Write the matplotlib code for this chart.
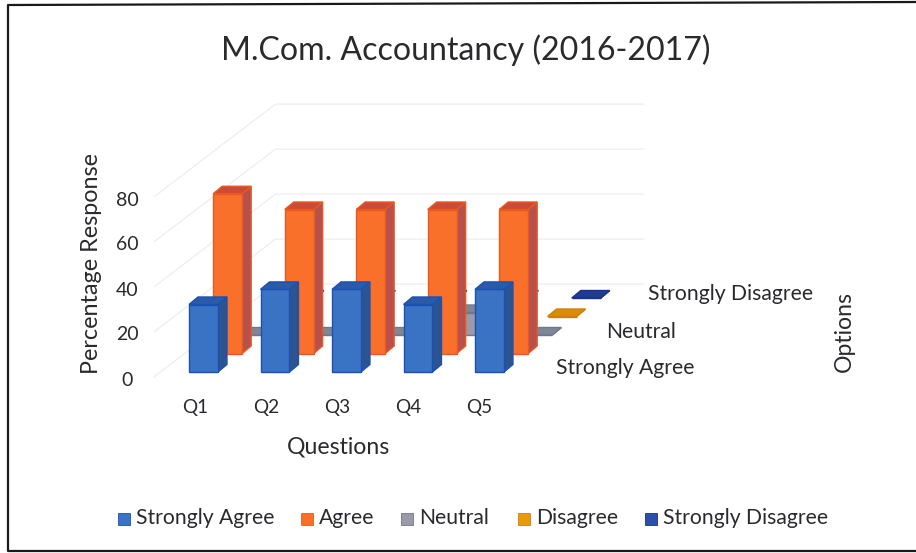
import matplotlib
matplotlib.use("Agg")
import matplotlib.pyplot as plt
from matplotlib.patches import Polygon, Rectangle

title = "M.Com. Accountancy (2016-2017)"
questions = ["Q1", "Q2", "Q3", "Q4", "Q5"]
series_names = ["Strongly Agree", "Agree", "Neutral", "Disagree", "Strongly Disagree"]
strongly_agree = [30, 36.7, 36.7, 30, 36.7]
agree = [71, 64, 64, 64, 64]
neutral = [0, 0, 0, 10, 0]
disagree = [0, 0, 0, 0, 0]
strongly_disagree = [0, 0, 0, 0, 0]
series_values = [strongly_agree, agree, neutral, disagree, strongly_disagree]
value_ticks = [0, 20, 40, 60, 80]
depth_labels = {0: "Strongly Agree", 2: "Neutral", 4: "Strongly Disagree"}
x_label = "Questions"
y_label = "Percentage Response"
z_label = "Options"

face = ["#3a73c4", "#f8702a", "#9a9aa8", "#e8990c", "#2a50a8"]
side = ["#2c5590", "#b8504e", "#80808c", "#b87808", "#1c3880"]
top = ["#2a5aa8", "#cc4a36", "#7f8796", "#d88c08", "#1e3c94"]
edge = ["#1c50b4", "#e85a20", "#70788a", "#d08008", "#1a3090"]

W, H = 916, 553
fig = plt.figure(figsize=(W / 100, H / 100), dpi=100, facecolor="white")
ax = fig.add_axes([0, 0, 1, 1])
ax.set_xlim(0, W)
ax.set_ylim(H, 0)
ax.axis("off")
plt.rcParams["font.family"] = "Lato"
TXT = "#2a2a2e"


def proj(q, s, v, d=0.0):
    """question index, series row, value, depth within a row -> picture position"""
    return (189 + 71.5 * q + 24.2 * s + 9 * d, 372 - 2.25 * v - 18.5 * s - 7.5 * d)


BW = 0.405

# scanned frame: top, left and bottom edges only
ax.plot([916, 8, 8, 916], [2, 5, 551, 551], color="#1a1a1a", lw=1.6, zorder=1)

# walls
grid_c = "#eeedf6"
for v in value_ticks:
    a = proj(-0.4, -0.25, v)
    b = proj(-0.4, 4.75, v)
    c = proj(4.75, 4.75, v)
    ax.plot([a[0], b[0], c[0]], [a[1], b[1], c[1]], color=grid_c, lw=0.9, zorder=1)

# bars, back rows first
z = 2
for s in range(len(series_values) - 1, -1, -1):
    for q, v in enumerate(series_values[s]):
        x0 = q
        x1 = q + BW
        f = [proj(x0, s, 0), proj(x1, s, 0), proj(x1, s, v), proj(x0, s, v)]
        sd = [proj(x1, s, 0), proj(x1, s, 0, 1), proj(x1, s, v, 1), proj(x1, s, v)]
        tp = [proj(x0, s, v), proj(x1, s, v), proj(x1, s, v, 1), proj(x0, s, v, 1)]
        for pts, col in ((sd, side[s]), (f, face[s]), (tp, top[s])):
            ax.add_patch(Polygon(pts, closed=True, fc=col, ec=edge[s], lw=1.0, zorder=z))
        z += 1

# text
ax.text(466, 50, title, ha="center", va="center", fontsize=23.1, color=TXT)
for v in value_ticks:
    ax.text(127, proj(0, 0, v)[1] + 8, str(v), ha="center", va="center", fontsize=14, color=TXT)
for q, name in enumerate(questions):
    ax.text(195 + 71 * q, 408, name, ha="center", va="center", fontsize=13.7, color=TXT)
ax.text(339, 447, x_label, ha="center", va="center", fontsize=16.6, color=TXT)
ax.text(91, 264, y_label, ha="center", va="center", rotation=90, fontsize=16.8, color=TXT)
ax.text(844, 331, z_label, ha="center", va="center", rotation=90, fontsize=16.6, color=TXT)
label_x = {0: 556, 2: 606, 4: 648}
for s, name in depth_labels.items():
    ax.text(label_x[s], 368.5 - 18.5 * s, name, ha="left", va="center", fontsize=15.2, color=TXT)

# legend
leg_x = [118, 301, 401, 518, 645]
for i, name in enumerate(series_names):
    ax.add_patch(Rectangle((leg_x[i], 513), 12, 12, fc=face[i], ec=edge[i], lw=0.6))
    ax.text(leg_x[i] + 18, 517.5, name, ha="left", va="center", fontsize=15.2, color=TXT)

fig.savefig("out.png", dpi=100)
